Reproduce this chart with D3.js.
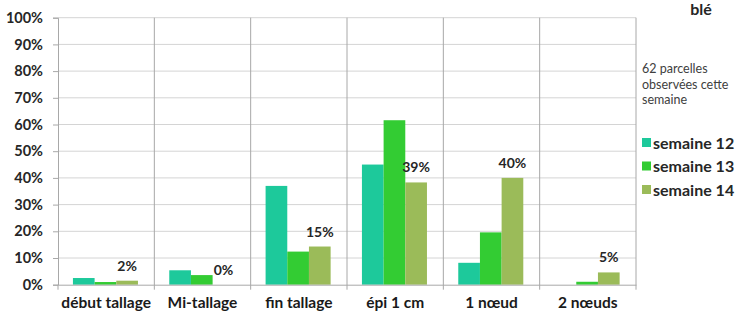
<!DOCTYPE html>
<html>
<head>
<meta charset="utf-8">
<script src="https://cdn.jsdelivr.net/npm/d3@7"></script>
<style>
  body { margin: 0; background: #fff; }
  svg { display: block; font-family: Lato, "Open Sans", sans-serif; }
</style>
</head>
<body>
<svg width="737" height="313"></svg>
<script>
var stades = ["début tallage", "Mi-tallage", "fin tallage", "épi 1 cm", "1 nœud", "2 nœuds"];
var semaines = ["semaine 12", "semaine 13", "semaine 14"];
var semaine12 = [2.5, 5.4, 37, 45, 8.2, 0];
var semaine13 = [1, 3.6, 12.4, 61.6, 19.6, 1.1];
var semaine14 = [1.5, 0, 14.3, 38.3, 40, 4.6];
var etiquettes14 = ["2%", "0%", "15%", "39%", "40%", "5%"];
var yTicks = [0, 10, 20, 30, 40, 50, 60, 70, 80, 90, 100];
var couleurs = ["#1dc99b", "#33cc33", "#9bbb59"];

function main() {
    var svg = d3.select("svg");
    var left = 58, right = 636, top = 17.7, bottom = 284.7;

    var xScale = d3.scaleBand().domain(stades).range([left, right]),
        yScale = d3.scaleLinear().domain([0, 100]).range([bottom, top]);
    var bw = xScale.bandwidth();
    var x1 = d3.scaleBand().domain(semaines).range([bw * 0.155, bw * 0.83]);

    var data = stades.map(function(s, i) {
        return { stade: s, values: [semaine12[i], semaine13[i], semaine14[i]], label: etiquettes14[i] };
    });

    // horizontal grid
    svg.append("g").selectAll("line")
        .data(yTicks.filter(function(d) { return d > 0; }))
        .enter().append("line")
        .attr("x1", left).attr("x2", right)
        .attr("y1", function(d) { return yScale(d); })
        .attr("y2", function(d) { return yScale(d); })
        .attr("stroke", "#d4d4d4");

    // vertical separators
    svg.append("g").selectAll("line")
        .data(stades.slice(1).concat(["__end"]))
        .enter().append("line")
        .attr("x1", function(d) { return d === "__end" ? right : xScale(d); })
        .attr("x2", function(d) { return d === "__end" ? right : xScale(d); })
        .attr("y1", top).attr("y2", bottom + 5)
        .attr("stroke", "#a8a8a8");

    // bars
    var groups = svg.append("g").selectAll("g")
        .data(data).enter().append("g")
        .attr("transform", function(d) { return "translate(" + xScale(d.stade) + ",0)"; });

    groups.selectAll("rect")
        .data(function(d) { return d.values.map(function(v, j) { return { s: semaines[j], v: v, j: j }; }); })
        .enter().append("rect")
        .attr("x", function(d) { return x1(d.s); })
        .attr("y", function(d) { return yScale(d.v); })
        .attr("width", x1.bandwidth())
        .attr("height", function(d) { return bottom - yScale(d.v); })
        .attr("fill", function(d) { return couleurs[d.j]; });

    // labels semaine 14
    groups.append("text")
        .attr("x", x1("semaine 14") + x1.bandwidth() / 2)
        .attr("y", function(d) { return yScale(d.values[2]) - 10; })
        .attr("text-anchor", "middle")
        .attr("font-size", "14px")
        .attr("font-weight", "bold")
        .attr("fill", "#262626")
        .text(function(d) { return d.label; });

    // axes
    svg.append("g")
        .attr("transform", "translate(" + left + ",0)")
        .call(d3.axisLeft(yScale).tickValues(yTicks).tickSize(5).tickFormat(function(d) { return d + "%"; }))
        .call(function(g) {
            g.select(".domain").attr("stroke", "#a8a8a8");
            g.selectAll(".tick line").attr("stroke", "#a8a8a8");
            g.selectAll("text").attr("font-size", "14.5px").attr("font-weight", "bold")
                .attr("font-family", "Lato, sans-serif").attr("fill", "#262626").attr("x", -15);
        });

    svg.append("g")
        .attr("transform", "translate(0," + bottom + ")")
        .call(d3.axisBottom(xScale).tickSize(0).tickPadding(12))
        .call(function(g) {
            g.select(".domain").attr("stroke", "#a8a8a8");
            g.selectAll("text").attr("font-size", "15.5px").attr("font-weight", "bold")
                .attr("font-family", "Lato, sans-serif").attr("fill", "#1a1a1a");
        });
    svg.append("line")
        .attr("x1", left).attr("x2", left).attr("y1", bottom).attr("y2", bottom + 5)
        .attr("stroke", "#a8a8a8");

    // right side texts
    svg.append("text")
        .attr("x", 701).attr("y", 15)
        .attr("text-anchor", "middle")
        .attr("font-size", "16px").attr("font-weight", "bold").attr("fill", "#262626")
        .text("blé");

    var note = ["62 parcelles", "observées cette", "semaine"];
    svg.append("g").selectAll("text")
        .data(note).enter().append("text")
        .attr("x", 642)
        .attr("y", function(d, i) { return 73 + i * 15.5; })
        .attr("font-size", "12.5px").attr("fill", "#404040")
        .text(function(d) { return d; });

    var legend = svg.append("g").selectAll("g")
        .data(semaines).enter().append("g")
        .attr("transform", function(d, i) { return "translate(642," + (143 + i * 23.5) + ")"; });
    legend.append("rect")
        .attr("x", 0).attr("y", -5).attr("width", 9).attr("height", 9)
        .attr("fill", function(d, i) { return couleurs[i]; });
    legend.append("text")
        .attr("x", 11).attr("y", 5.5)
        .attr("font-size", "16px").attr("font-weight", "bold").attr("fill", "#262626")
        .text(function(d) { return d; });
}
main();
</script>
</body>
</html>
